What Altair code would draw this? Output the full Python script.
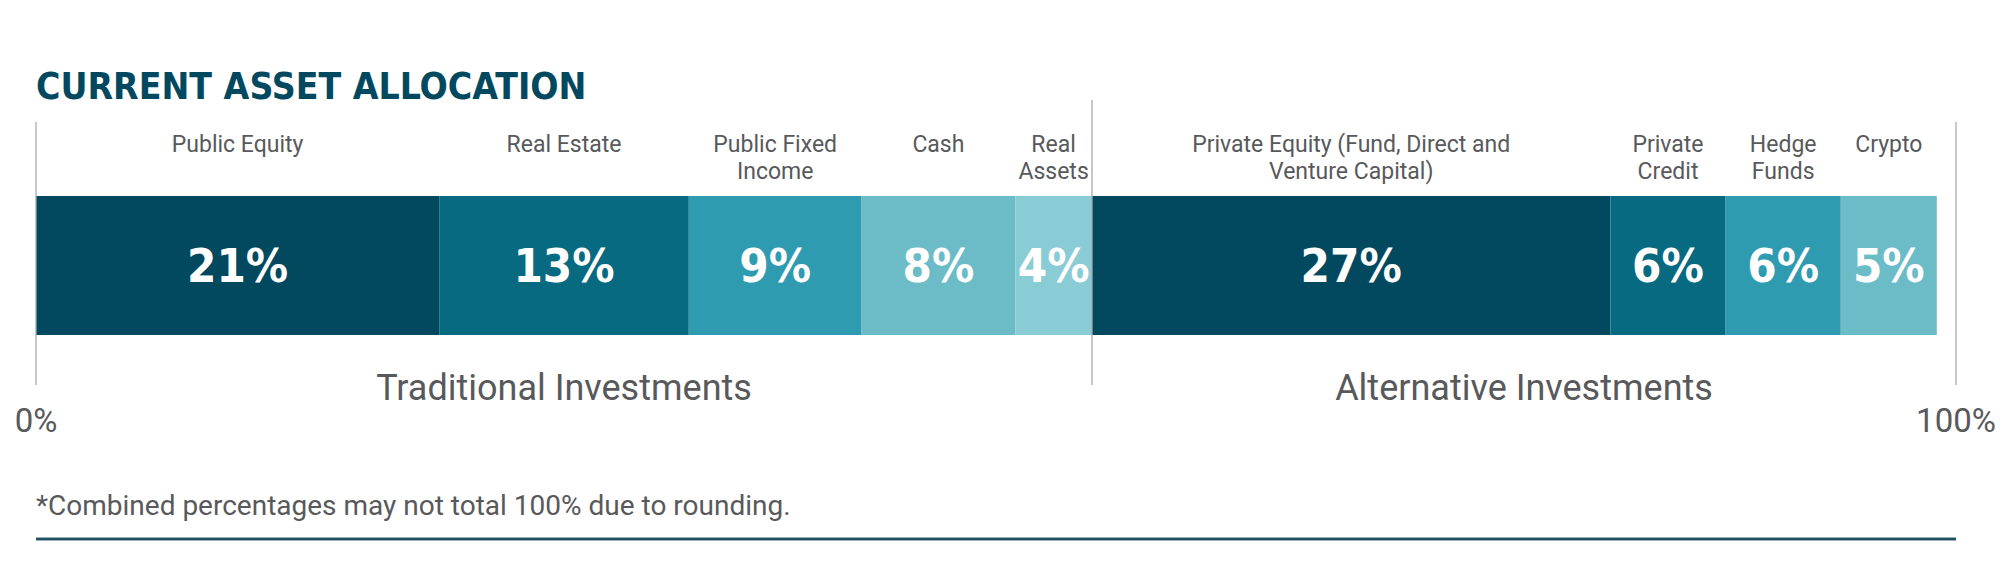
import altair as alt
import pandas as pd

# ---- data ----
categories = ["Public Equity", "Real Estate", "Public Fixed Income", "Cash", "Real Assets",
              "Private Equity (Fund, Direct and Venture Capital)", "Private Credit",
              "Hedge Funds", "Crypto"]
label_lines = ["Public Equity", "Real Estate", "Public Fixed\nIncome", "Cash", "Real\nAssets",
               "Private Equity (Fund, Direct and\nVenture Capital)", "Private\nCredit",
               "Hedge\nFunds", "Crypto"]
values = [21, 13, 9, 8, 4, 27, 6, 6, 5]
groups = ["Traditional Investments"] * 5 + ["Alternative Investments"] * 4
bar_colors = ["#02495F", "#086A80", "#2E9BB0", "#6BBCC7", "#8ACCD5",
              "#02495F", "#086A80", "#2E9BB0", "#6BBCC7"]
group_names = ["Traditional Investments", "Alternative Investments"]
axis_ticks = [0, 100]
axis_labels = ["0%", "100%"]
title_text = "CURRENT ASSET ALLOCATION"
footnote_text = "*Combined percentages may not total 100% due to rounding."

# ---- derived tables ----
bars = pd.DataFrame({"category": categories, "label": label_lines,
                     "value": values, "group": groups})
bars["end"] = bars["value"].cumsum()
bars["start"] = bars["end"] - bars["value"]
bars["mid"] = (bars["start"] + bars["end"]) / 2
bars["pct"] = bars["value"].astype(str) + "%"

trad_total = bars.loc[bars["group"] == group_names[0], "value"].sum()
bounds = [0, trad_total, axis_ticks[1]]
grp = pd.DataFrame({"group": group_names,
                    "gstart": bounds[:-1], "gend": bounds[1:]})
grp["gmid"] = (grp["gstart"] + grp["gend"]) / 2

ticks = pd.DataFrame({"tick": axis_ticks, "tlabel": axis_labels})
divider = pd.DataFrame({"pos": [trad_total]})

W = 1920
xs = alt.Scale(domain=[0, 100], nice=False, zero=False)
TEXT_FONT = "Roboto"
GRAY = "#58595B"
COND = "Liberation Sans Narrow, DejaVu Sans Condensed, Arial Narrow, sans-serif"

bar_layer = alt.Chart(bars).mark_rect().encode(
    x=alt.X("start:Q", scale=xs, axis=None),
    x2="end:Q",
    y=alt.value(188),
    y2=alt.value(327),
    color=alt.Color("category:N", scale=alt.Scale(domain=categories, range=bar_colors),
                    legend=None),
)

pct_layer = alt.Chart(bars).mark_text(
    font=COND, fontWeight="bold", fontSize=47, color="white", baseline="middle", align="center"
).encode(x=alt.X("mid:Q", scale=xs, axis=None), y=alt.value(260), text="pct:N")

cat_layer = alt.Chart(bars).mark_text(
    font=TEXT_FONT, fontSize=23, color=GRAY, baseline="alphabetic", align="center",
    lineBreak="\n", lineHeight=27
).encode(x=alt.X("mid:Q", scale=xs, axis=None), y=alt.value(144), text="label:N")

edge_rules = alt.Chart(ticks).mark_rule(color="#AAAAAA", strokeWidth=1.3).encode(
    x=alt.X("tick:Q", scale=xs, axis=None), y=alt.value(114), y2=alt.value(377))

div_rule = alt.Chart(divider).mark_rule(color="#AAAAAA", strokeWidth=1.3).encode(
    x=alt.X("pos:Q", scale=xs, axis=None), y=alt.value(92), y2=alt.value(377))

tick_text = alt.Chart(ticks).mark_text(
    font=TEXT_FONT, fontSize=33, color=GRAY, baseline="alphabetic", align="center"
).encode(x=alt.X("tick:Q", scale=xs, axis=None), y=alt.value(424), text="tlabel:N")

grp_text = alt.Chart(grp).mark_text(
    font=TEXT_FONT, fontSize=36, color=GRAY, baseline="alphabetic", align="center"
).encode(x=alt.X("gmid:Q", scale=xs, axis=None), y=alt.value(392), text="group:N")

title_layer = alt.Chart(pd.DataFrame({"t": [title_text]})).mark_text(
    font=COND, fontWeight="bold", fontSize=37, color="#02495F", baseline="alphabetic",
    align="left"
).encode(x=alt.value(0), y=alt.value(91), text="t:N")

foot_layer = alt.Chart(pd.DataFrame({"t": [footnote_text]})).mark_text(
    font=TEXT_FONT, fontSize=28, color=GRAY, baseline="alphabetic", align="left"
).encode(x=alt.value(0), y=alt.value(507), text="t:N")

bottom_rule = alt.Chart(ticks).mark_rule(color="#1F4F60", strokeWidth=2.5).encode(
    x=alt.datum(axis_ticks[0], scale=xs), x2=alt.datum(axis_ticks[1]), y=alt.value(531))

chart = alt.layer(
    bar_layer, pct_layer, cat_layer, edge_rules, div_rule, tick_text, grp_text,
    title_layer, foot_layer, bottom_rule
).properties(
    width=W, height=560,
    autosize=alt.AutoSizeParams(type="none"),
    padding={"left": 28, "top": 0, "right": 40, "bottom": 0},
).configure_view(stroke=None)

chart.save("out.html", embed_options={"renderer": "svg", "actions": False})
